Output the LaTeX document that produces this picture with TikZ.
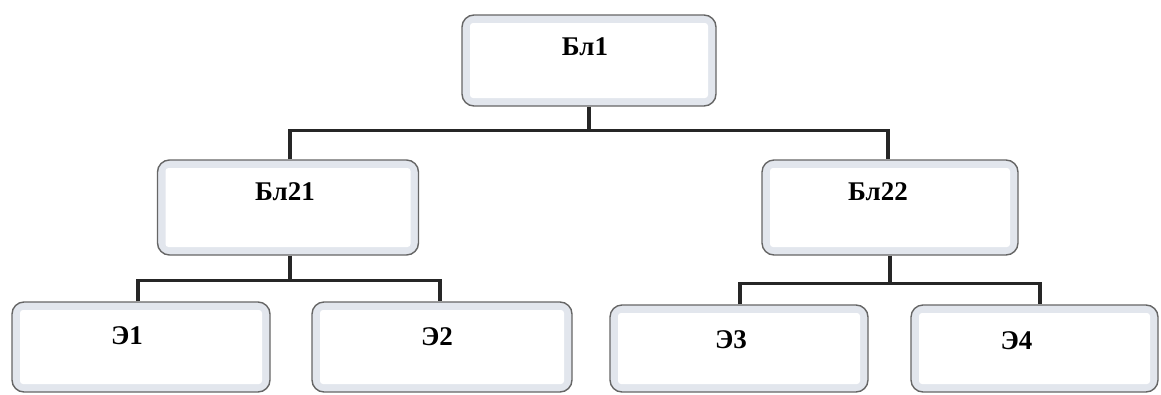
\documentclass[tikz,border=0pt]{standalone}
\usepackage{fontspec}
\setmainfont{Liberation Serif}
\newcommand{\shiftedtext}[2]{\kern-#1pt #2\kern#1pt}
\begin{document}
\begin{tikzpicture}[x=1pt,y=-1pt,
  boxnode/.style={draw=black!60, line width=1.4pt, rounded corners=12pt,
    fill={rgb,255:red,226;green,230;blue,237}, inner xsep=0pt, inner ysep=0pt,
    text height=40pt, font=\fontsize{27}{32}\selectfont\bfseries,
    path picture={\fill[white, rounded corners=3pt]
      ([xshift=8pt,yshift=-8pt]path picture bounding box.north west) rectangle
      ([xshift=-8pt,yshift=8pt]path picture bounding box.south east);}},
  conn/.style={line width=3.2pt, draw=black!85}]
\useasboundingbox (0,0) rectangle (1161,394);
\node[boxnode, minimum width=254pt, text depth=51pt] (b1) at (589,60.5) {\shiftedtext{4}{Бл1}};
\node[boxnode, minimum width=261pt, text depth=55pt] (b21) at (288,207.5) {\shiftedtext{3}{Бл21}};
\node[boxnode, minimum width=256pt, text depth=55pt] (b22) at (890,207.5) {\shiftedtext{12}{Бл22}};
\node[boxnode, minimum width=258pt, text height=42pt, text depth=48pt] (e1) at (141,347) {\shiftedtext{14}{Э1}};
\node[boxnode, minimum width=260pt, text height=43pt, text depth=47pt] (e2) at (442,347) {\shiftedtext{5}{Э2}};
\node[boxnode, minimum width=258pt, text height=43pt, text depth=44pt] (e3) at (739,348.5) {\shiftedtext{8}{Э3}};
\node[boxnode, minimum width=247pt, text height=44pt, text depth=43pt] (e4) at (1034.5,348.5) {\shiftedtext{18}{Э4}};
\draw[conn] (b1.south) -- ++(0,24) coordinate (j1);
\draw[conn] ([xshift=2pt]b21.north) |- (j1) -| ([xshift=-2pt]b22.north);
\draw[conn] ([xshift=2pt]b21.south) -- ++(0,25) coordinate (j2);
\draw[conn] ([xshift=-3pt]e1.north) |- (j2) -| ([xshift=-2pt]e2.north);
\draw[conn] (b22.south) -- ++(0,28) coordinate (j3);
\draw[conn] ([xshift=1pt]e3.north) |- (j3) -| ([xshift=5.5pt]e4.north);
\end{tikzpicture}
\end{document}
